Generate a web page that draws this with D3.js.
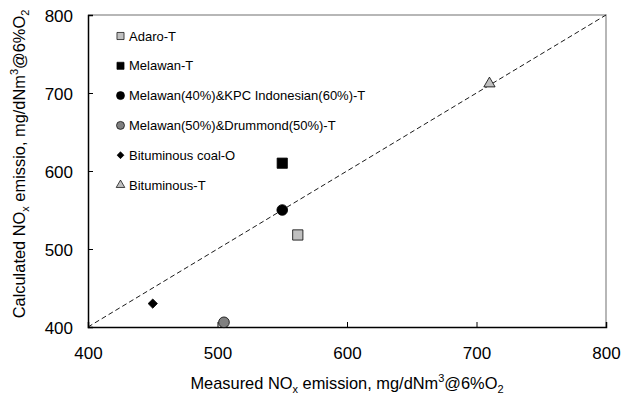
<!DOCTYPE html>
<html>
<head>
<meta charset="utf-8">
<script src="https://cdn.jsdelivr.net/npm/d3@7"></script>
<style>
  body { margin: 0; background: #fff; }
  text { font-family: "Liberation Sans", Arial, sans-serif; fill: #000; }
</style>
</head>
<body>
<script>
let width = 621;
let height = 396;

// series names, measured (x) and calculated (y) NOx
let names = [
  "Adaro-T",
  "Melawan-T",
  "Melawan(40%)&KPC Indonesian(60%)-T",
  "Melawan(50%)&Drummond(50%)-T",
  "Bituminous coal-O",
  "Bituminous-T"
];
let measured = [562, 550, 550, 505, 450, 710];
let calculated = [518, 610, 550, 406, 430, 712];
let shapes = ["square", "square", "circle", "circle", "diamond", "triangle"];
let fills = ["#c0c0c0", "#000", "#000", "#808080", "#000", "#c0c0c0"];

let xTicks = [400, 500, 600, 700, 800];
let yTicks = [400, 500, 600, 700, 800];

let margin = { left: 88, right: 15, top: 15, bottom: 69 };

let svg = d3
  .select("body")
  .append("svg")
  .attr("width", width)
  .attr("height", height);

let x = d3.scaleLinear().domain([400, 800]).range([margin.left, width - margin.right]);
let y = d3.scaleLinear().domain([400, 800]).range([height - margin.bottom, margin.top]);

// grey frame on top and right
svg
  .append("path")
  .attr("d", `M${x(400)},${y(800)}H${x(800)}V${y(400)}`)
  .attr("fill", "none")
  .attr("stroke", "#a0a0a0")
  .attr("stroke-width", 1.5);

// 1:1 line
svg
  .append("line")
  .attr("x1", x(400))
  .attr("y1", y(400))
  .attr("x2", x(800))
  .attr("y2", y(800))
  .attr("stroke", "#000")
  .attr("stroke-width", 0.9)
  .attr("stroke-dasharray", "5,3");

let xAxis = svg
  .append("g")
  .attr("transform", `translate(0,${y(400)})`)
  .call(d3.axisBottom(x).tickValues(xTicks).tickSize(-5).tickPadding(20));
let yAxis = svg
  .append("g")
  .attr("transform", `translate(${x(400)},0)`)
  .call(d3.axisLeft(y).tickValues(yTicks).tickSize(-5).tickPadding(15));

[xAxis, yAxis].forEach((g) => {
  g.select(".domain").attr("stroke", "#000").attr("stroke-width", 1.5);
  g.selectAll(".tick line").attr("stroke", "#000").attr("stroke-width", 1);
  g.selectAll(".tick text").style("font-size", "17px").style("font-family", "Liberation Sans, Arial, sans-serif");
});
yAxis.selectAll(".tick text").attr("dy", "0.36em");

let symbolFor = (s, size) => {
  let type = {
    square: d3.symbolSquare,
    circle: d3.symbolCircle,
    diamond: d3.symbolDiamond2,
    triangle: d3.symbolTriangle
  }[s];
  return d3.symbol().type(type).size(size)();
};
let bigSize = { square: 105, circle: 90, diamond: 55, triangle: 55 };
let smallSize = { square: 50, circle: 50, diamond: 30, triangle: 32 };

// data points
svg
  .append("g")
  .selectAll("path")
  .data(names)
  .join("path")
  .attr("transform", (d, i) => `translate(${x(measured[i])},${y(calculated[i])})`)
  .attr("d", (d, i) => symbolFor(shapes[i], bigSize[shapes[i]]))
  .attr("fill", (d, i) => fills[i])
  .attr("stroke", "#000")
  .attr("stroke-width", 0.8);

// legend
let legend = svg
  .append("g")
  .selectAll("g")
  .data(names)
  .join("g")
  .attr("transform", (d, i) => `translate(120.5,${36 + i * 29.8})`);

legend
  .append("path")
  .attr("d", (d, i) => symbolFor(shapes[i], smallSize[shapes[i]]))
  .attr("fill", (d, i) => fills[i])
  .attr("stroke", "#000")
  .attr("stroke-width", 0.7);

legend
  .append("text")
  .attr("x", 8.5)
  .attr("dy", "0.35em")
  .style("font-size", "13px")
  .text((d) => d);

// axis titles
let xTitle = svg
  .append("text")
  .attr("x", (x(400) + x(800)) / 2)
  .attr("y", 389)
  .attr("text-anchor", "middle")
  .style("font-size", "16.4px");
xTitle.append("tspan").text("Measured NO");
xTitle.append("tspan").attr("dy", 4).style("font-size", "11px").text("x");
xTitle.append("tspan").attr("dy", -4).text(" emission, mg/dNm");
xTitle.append("tspan").attr("dy", -7).style("font-size", "11px").text("3");
xTitle.append("tspan").attr("dy", 7).text("@6%O");
xTitle.append("tspan").attr("dy", 4).style("font-size", "11px").text("2");

let yTitle = svg
  .append("text")
  .attr("transform", `translate(25,164) rotate(-90)`)
  .attr("text-anchor", "middle")
  .style("font-size", "16.4px");
yTitle.append("tspan").text("Calculated NO");
yTitle.append("tspan").attr("dy", 4).style("font-size", "11px").text("x");
yTitle.append("tspan").attr("dy", -4).text(" emissio, mg/dNm");
yTitle.append("tspan").attr("dy", -7).style("font-size", "11px").text("3");
yTitle.append("tspan").attr("dy", 7).text("@6%O");
yTitle.append("tspan").attr("dy", 4).style("font-size", "11px").text("2");
</script>
</body>
</html>
